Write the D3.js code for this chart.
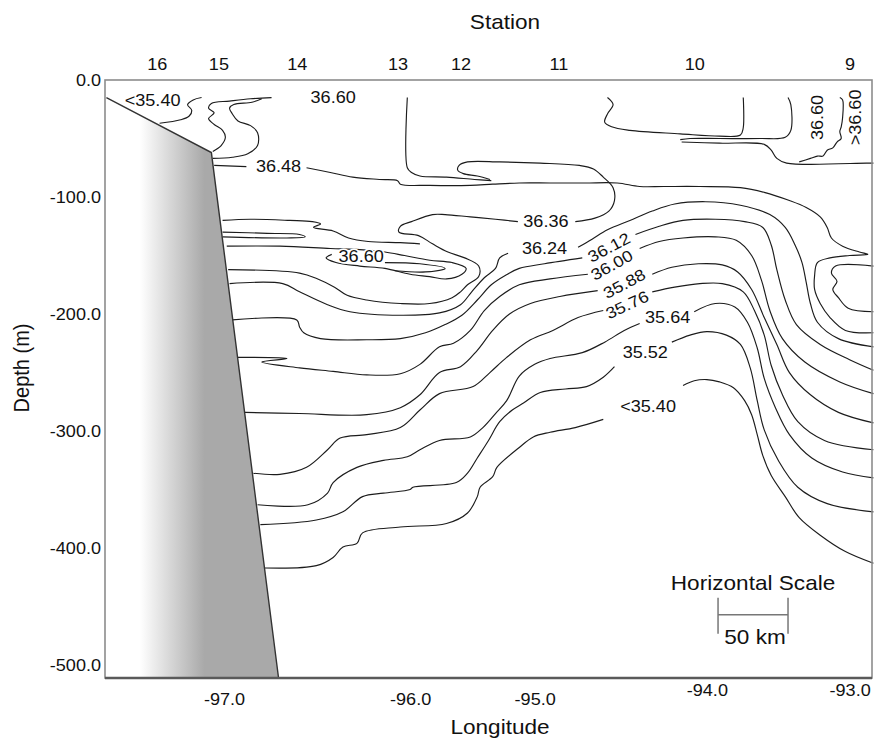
<!DOCTYPE html>
<html>
<head>
<meta charset="utf-8">
<script src="https://cdn.jsdelivr.net/npm/d3@7"></script>
<style>
  body { margin: 0; background: #fff; }
  svg { display: block; font-family: "Liberation Sans", Arial, sans-serif; }
</style>
</head>
<body>
<script>
// x = distance along the section (km), y = depth (m)
const stationNames = ["16", "15", "14", "13", "12", "11", "10", "9"];
const stationKm = [37, 81, 137, 209, 254, 324, 421, 532];
const lonTicks = [-97, -96, -95, -94, -93];
const lonTickKm = [85, 218, 307, 430, 532];
const depthTicks = [0, -100, -200, -300, -400, -500];

const shelf = [[1, -15], [76, -62], [124, -511]];

// contour traces, km / depth
const topLeft = [[39,-37],[54,-34],[60,-31],[62,-26],[59,-21],[63,-17],[69,-15]];
const tongueInner = [[77,-61],[83,-56],[86,-49],[84,-43],[78,-38],[74,-33],[78,-28],[74,-24],[76,-20],[89,-18],[104,-16],[119,-15]];
const tongueOuter = [[77,-67],[91,-66],[102,-63],[109,-56],[109,-45],[104,-39],[95,-35],[91,-29],[89,-24],[92,-21],[105,-19],[112,-16]];
const c3648West = [[78,-73],[101,-74]];
const c3648 = [[144,-75],[161,-79],[177,-83],[196,-85],[209,-86],[211,-89],[232,-90],[261,-90],[277,-89],[296,-88],[318,-88],[343,-88],[366,-88],[382,-91],[399,-91],[425,-91],[454,-92],[471,-96],[489,-103],[501,-109],[511,-117],[516,-126],[519,-135],[527,-142],[539,-147],[545,-149],[532,-150],[518,-152],[509,-156],[507,-167],[507,-179],[511,-191],[518,-203],[529,-214],[549,-216]];
const c3660Edge = [[216,-15],[216,-75],[219,-79],[225,-82],[244,-83],[264,-85],[276,-86]];
const c3636North = [[336,-121],[350,-118],[360,-112],[364,-103],[363,-92],[356,-83],[349,-76],[339,-73],[311,-71],[282,-70],[259,-70],[253,-73],[252,-77],[256,-80],[266,-82],[275,-85]];
const c3636 = [[295,-121],[279,-119],[261,-117],[243,-115],[234,-115],[219,-121],[211,-125],[210,-130],[224,-133],[234,-140],[245,-147],[257,-152],[267,-159],[267,-168],[259,-175],[254,-181],[248,-186],[232,-191],[211,-191],[187,-188],[173,-184],[164,-177],[152,-170],[139,-165],[88,-162]];
const shelfBand = [[84,-120],[104,-119],[132,-120],[148,-121],[154,-123],[149,-126],[163,-129],[174,-135],[188,-138],[211,-139],[225,-140]];
const shelfTongue = [[84,-130],[116,-131],[139,-132],[143,-134],[130,-135],[84,-134]];
const c3660 = [[87,-142],[125,-142],[161,-144],[182,-145],[200,-147],[214,-150],[232,-154],[248,-156],[258,-161],[255,-166],[244,-170],[232,-168],[218,-166],[200,-161],[182,-159],[165,-156],[158,-152],[162,-149]];
const c3660Inner = [[200,-156],[225,-157],[243,-161],[229,-164],[207,-163]];
const c3624West = [[89,-174],[127,-174],[139,-181],[159,-192],[175,-198],[211,-201],[239,-199],[254,-192],[262,-181],[271,-169],[279,-161],[282,-152],[288,-148]];
const c3624East = [[338,-143],[348,-136],[359,-128],[375,-120],[391,-112],[407,-106],[429,-104],[454,-107],[475,-115],[486,-126],[493,-141],[498,-156],[501,-173],[504,-191],[509,-207],[524,-221],[549,-228]];
const c3612West = [[91,-205],[137,-205],[139,-211],[142,-216],[154,-221],[187,-222],[211,-221],[229,-216],[243,-209],[255,-201],[266,-188],[276,-175],[286,-167],[296,-161],[314,-157],[341,-152]];
const c3612East = [[379,-132],[396,-125],[413,-120],[436,-119],[457,-121],[470,-126],[476,-141],[480,-162],[486,-188],[494,-209],[511,-226],[532,-239],[549,-248]];
const c3600West = [[95,-237],[130,-238],[112,-241],[139,-246],[163,-249],[187,-252],[211,-251],[225,-243],[239,-228],[249,-225],[261,-214],[271,-197],[282,-185],[296,-175],[318,-170],[345,-166]];
const c3600East = [[382,-144],[396,-138],[413,-135],[436,-134],[451,-137],[462,-150],[469,-171],[475,-197],[484,-221],[500,-241],[525,-258],[549,-268]];
const c3588West = [[100,-284],[139,-285],[187,-286],[211,-280],[225,-269],[239,-250],[254,-245],[266,-231],[277,-214],[289,-200],[304,-191],[325,-185],[352,-180]];
const c3588East = [[391,-166],[405,-160],[424,-157],[441,-158],[452,-164],[462,-179],[471,-203],[480,-226],[489,-250],[504,-269],[524,-284],[549,-293]];
const c3576West = [[106,-336],[125,-337],[144,-331],[159,-316],[168,-306],[187,-303],[211,-297],[225,-282],[239,-268],[263,-262],[275,-250],[287,-237],[304,-222],[320,-214],[338,-203],[356,-197]];
const c3576East = [[391,-181],[407,-177],[425,-174],[441,-174],[456,-181],[464,-197],[471,-218],[476,-244],[484,-269],[495,-292],[514,-308],[549,-316]];
const c3564West = [[109,-363],[145,-363],[159,-353],[163,-344],[180,-331],[199,-325],[216,-322],[225,-316],[239,-308],[261,-305],[270,-297],[279,-285],[287,-274],[296,-253],[307,-243],[318,-238],[341,-233],[357,-224],[371,-214],[382,-208]];
const c3564East = [[421,-198],[436,-191],[450,-194],[459,-207],[466,-229],[471,-255],[479,-280],[489,-303],[505,-323],[527,-335],[549,-340]];
const c3552West = [[111,-380],[151,-376],[170,-369],[184,-356],[199,-353],[218,-350],[220,-348],[251,-344],[259,-336],[266,-323],[274,-308],[282,-292],[291,-282],[299,-276],[311,-267],[329,-264],[344,-262],[356,-254],[364,-245]];
const c3552East = [[405,-224],[418,-218],[430,-215],[444,-218],[454,-226],[461,-246],[466,-274],[471,-299],[481,-325],[495,-348],[516,-362],[549,-369]];
const c3540West = [[114,-417],[151,-415],[163,-408],[170,-399],[180,-396],[184,-387],[211,-382],[244,-379],[259,-370],[266,-356],[268,-348],[277,-339],[280,-331],[296,-314],[306,-305],[318,-301],[336,-297],[356,-290]];
const c3540East = [[413,-261],[421,-257],[430,-256],[439,-258],[449,-263],[457,-274],[462,-286],[466,-303],[470,-321],[476,-338],[486,-356],[496,-374],[511,-389],[529,-403],[549,-413]];
const edgeLoop = [[549,-159],[522,-159],[519,-165],[523,-172],[520,-179],[524,-186],[531,-195],[549,-198]];
const surfA = [[359,-15],[363,-21],[359,-29],[357,-36],[362,-40],[375,-43],[411,-46],[439,-48],[454,-47],[456,-41],[456,-15]];
const surfB = [[488,-15],[490,-21],[490,-43],[486,-49],[468,-50],[439,-50],[418,-50],[411,-51]];
const surfC = [[412,-53],[439,-54],[471,-55],[476,-60],[480,-67],[487,-71],[544,-71],[549,-71]];
const surfD = [[496,-70],[504,-67],[509,-65],[513,-65],[516,-60],[520,-58],[523,-53],[526,-50],[525,-44],[526,-40],[527,-32],[527,-17],[525,-15]];

const labelText = ["<35.40", "36.60", "36.48", "36.36", "36.24", "36.60", "36.12", "36.00", "35.88", "35.76", "35.64", "35.52", "<35.40", "36.60", ">36.60"];
const labelKm = [34, 163, 124, 315, 314, 183, 360, 362, 371, 373, 402, 386, 388, 509, 536];
const labelDepth = [-17, -15, -74, -121, -144, -151, -143, -158, -174, -192, -203, -233, -279, -32, -32];

const scaleBarKm = 50;
const scaleBarStartKm = 438;

const contours = [topLeft, tongueInner, tongueOuter, c3648West, c3648, c3660Edge,
  c3636North, c3636, shelfBand, shelfTongue, c3660, c3660Inner,
  c3624West, c3624East, c3612West, c3612East, c3600West, c3600East,
  c3588West, c3588East, c3576West, c3576East, c3564West, c3564East,
  c3552West, c3552East, c3540West, c3540East, edgeLoop, surfA, surfB, surfC, surfD];

const labelTilt = [0, 0, 0, 0, 0, 0, -28, -29, -28, -25, 0, 0, 0, -90, -90];

const W = 875, H = 738;
const x = d3.scaleLinear().domain([0, 548]).range([105, 872]);
const y = d3.scaleLinear().domain([0, -511]).range([80, 678]);
const STRETCH = "scale(1.13,1)";

const svg = d3.select("body").append("svg")
  .attr("width", W)
  .attr("height", H);

const grad = svg.append("defs").append("linearGradient")
  .attr("id", "shelfFill")
  .attr("gradientUnits", "userSpaceOnUse")
  .attr("x1", x(25)).attr("x2", x(71))
  .attr("y1", 0).attr("y2", 0);
grad.append("stop").attr("offset", 0).attr("stop-color", "#ffffff");
grad.append("stop").attr("offset", 1).attr("stop-color", "#a9a9a9");

const straight = d3.line().x(d => x(d[0])).y(d => y(d[1]));
const smooth = d3.line().x(d => x(d[0])).y(d => y(d[1]))
  .curve(d3.curveCatmullRom.alpha(0.5));

// continental slope
const shelfPoly = [[0, shelf[0][1]]].concat(shelf, [[0, -511]]);
svg.append("path")
  .attr("d", straight(shelfPoly) + "Z")
  .attr("fill", "url(#shelfFill)");

svg.append("g")
  .selectAll("path")
  .data(contours)
  .join("path")
  .attr("d", smooth)
  .attr("fill", "none")
  .attr("stroke", "#1c1c1c")
  .attr("stroke-width", 1.15);

svg.append("path")
  .attr("d", straight(shelf))
  .attr("fill", "none")
  .attr("stroke", "#333")
  .attr("stroke-width", 1.4);

// contour labels
svg.append("g")
  .selectAll("text")
  .data(labelText)
  .join("text")
  .attr("transform", (d, i) => "translate(" + x(labelKm[i]) + "," + y(labelDepth[i]) + ") rotate(" + labelTilt[i] + ") " + STRETCH)
  .attr("text-anchor", "middle")
  .attr("dy", "0.36em")
  .attr("font-size", 16)
  .attr("fill", "#111")
  .attr("stroke", "#fff")
  .attr("stroke-width", 3)
  .attr("paint-order", "stroke")
  .text(d => d);

// frame
svg.append("rect")
  .attr("x", x(0))
  .attr("y", y(0))
  .attr("width", x(548) - x(0))
  .attr("height", y(-511) - y(0))
  .attr("fill", "none")
  .attr("stroke", "#8c8c8c")
  .attr("stroke-width", 1.6);
svg.append("line")
  .attr("x1", x(0)).attr("x2", x(548))
  .attr("y1", y(-511)).attr("y2", y(-511))
  .attr("stroke", "#5a5a5a")
  .attr("stroke-width", 2.4);

// axes
const yAxis = svg.append("g")
  .attr("transform", "translate(" + x(0) + ",0)")
  .call(d3.axisLeft(y).tickValues(depthTicks).tickSize(0).tickPadding(3.5)
    .tickFormat(d => d.toFixed(1)));
const topAxis = svg.append("g")
  .attr("transform", "translate(0,70)")
  .call(d3.axisTop(x).tickValues(stationKm).tickSize(0).tickPadding(0)
    .tickFormat((d, i) => stationNames[i]));
const bottomAxis = svg.append("g")
  .attr("transform", "translate(0,690)")
  .call(d3.axisBottom(x).tickValues(lonTickKm).tickSize(0).tickPadding(4)
    .tickFormat((d, i) => lonTicks[i].toFixed(1)));
bottomAxis.selectAll("text").attr("y", (d, i) => lonTicks[i] >= -94 ? -5 : 4);

[yAxis, topAxis, bottomAxis].forEach(a => {
  a.select(".domain").remove();
  a.attr("font-family", null).attr("font-size", null);
  a.selectAll("text")
    .attr("font-size", 16)
    .attr("fill", "#111")
    .attr("transform", STRETCH);
});

// titles
svg.append("text")
  .attr("transform", "translate(505,29) " + STRETCH)
  .attr("text-anchor", "middle")
  .attr("font-size", 20)
  .attr("fill", "#111")
  .text("Station");
svg.append("text")
  .attr("transform", "translate(500,734) " + STRETCH)
  .attr("text-anchor", "middle")
  .attr("font-size", 20)
  .attr("fill", "#111")
  .text("Longitude");
svg.append("text")
  .attr("transform", "translate(29,368) rotate(-90) scale(1,1.1)")
  .attr("text-anchor", "middle")
  .attr("font-size", 20)
  .attr("fill", "#111")
  .text("Depth (m)");

// horizontal scale bar
const sx0 = x(scaleBarStartKm), sx1 = x(scaleBarStartKm + scaleBarKm);
const barY = y(-457);
const bar = svg.append("g").attr("stroke", "#777").attr("stroke-width", 1.5);
bar.append("line").attr("x1", sx0).attr("x2", sx1).attr("y1", barY).attr("y2", barY);
bar.append("line").attr("x1", sx0).attr("x2", sx0).attr("y1", barY - 17).attr("y2", barY + 19);
bar.append("line").attr("x1", sx1).attr("x2", sx1).attr("y1", barY - 17).attr("y2", barY + 19);
svg.append("text")
  .attr("transform", "translate(" + ((sx0 + sx1) / 2) + "," + (barY - 25) + ") " + STRETCH)
  .attr("text-anchor", "middle")
  .attr("font-size", 20)
  .attr("fill", "#111")
  .text("Horizontal Scale");
svg.append("text")
  .attr("transform", "translate(" + ((sx0 + sx1) / 2 + 2) + "," + (barY + 29) + ") " + STRETCH)
  .attr("text-anchor", "middle")
  .attr("font-size", 20)
  .attr("fill", "#111")
  .text(scaleBarKm + " km");
</script>
</body>
</html>
